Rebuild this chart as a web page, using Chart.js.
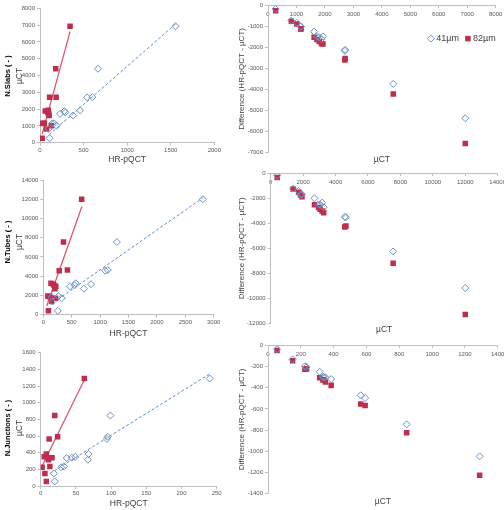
<!DOCTYPE html>
<html><head><meta charset="utf-8">
<script src="https://cdn.jsdelivr.net/npm/chart.js@4.4.1/dist/chart.umd.min.js"></script>
<style>
html,body{margin:0;padding:0;background:#fff;overflow:hidden;width:504px;height:510px;position:relative;}
canvas{position:absolute;}
</style></head><body>
<canvas id="l1"></canvas><canvas id="r1"></canvas>
<canvas id="l2"></canvas><canvas id="r2"></canvas>
<canvas id="l3"></canvas><canvas id="r3"></canvas>
<script>
// ---------------- DATA ----------------
// N.Slabs : µCT value and HR-pQCT values at 41µm / 82µm per sample
const slabsUct  = [270, 820, 1010, 1150, 1160, 1620, 1720, 1800, 1880, 1930, 2700, 2710, 4400, 6930];
const slabsHr41 = [110, 100, 190, 140, 160, 380, 230, 290, 280, 460, 540, 600, 665, 1555];
const slabsHr82 = [25, 75, 130, 30, 50, 105, 100, 90, 60, 95, 110, 185, 180, 345];
const slabsFit41X = [105, 1555], slabsFit41Y = [480, 7060];
const slabsFit82X = [25, 345],   slabsFit82Y = [520, 6610];

// N.Tubes
const tubesUct  = [400, 1380, 1720, 1840, 1930, 2700, 2950, 3050, 3170, 3270, 4570, 4640, 7550, 12000];
const tubesHr41 = [255, 160, 325, 150, 265, 715, 470, 550, 840, 570, 1090, 1135, 1295, 2810];
const tubesHr82 = [90, 145, 215, 120, 80, 205, 220, 190, 175, 135, 280, 425, 355, 675];
const tubesFit41X = [260, 2810], tubesFit41Y = [1600, 12150];
const tubesFit82X = [60, 680],   tubesFit82Y = [900, 11250];

// N.Junctions
const juncUct  = [55, 150, 225, 235, 315, 335, 340, 350, 385, 565, 592, 845, 1290];
const juncHr41 = [20, 19, 29, 33, 67, 37, 44, 49, 68, 94, 95, 99, 240];
const juncHr82 = [8, 6, 2, 13, 11, 10, 16, 5, 8, 12, 24, 20, 62];
const juncFit41X = [13, 240], juncFit41Y = [150, 1345];
const juncFit82X = [1.5, 62], juncFit82Y = [230, 1275];

const seriesLabels = ['41µm', '82µm'];
const paramNames = ['N.Slabs ( - )', 'N.Tubes ( - )', 'N.Junctions ( - )'];
const xTitleLeft = 'HR-pQCT', yTitleLeft = 'µCT';
const xTitleRight = 'µCT', yTitleRight = 'Difference (HR-pQCT - µCT)';

// axis ranges / steps
const leftX  = [[0, 2000, 500], [0, 3000, 500], [0, 250, 50]];
const leftY  = [[0, 8000, 1000], [0, 14000, 2000], [0, 1600, 200]];
const rightX = [[0, 8000, 1000], [0, 14000, 2000], [0, 1400, 200]];
const rightY = [[-7000, 0, 1000], [-12000, 0, 2000], [-1400, 0, 200]];

// ---------------- STYLE ----------------
const FONT = "'Liberation Sans', Arial, sans-serif";
const BLUE_PT = '#6a90c4', RED_PT = '#be2e4c';
const BLUE_LINE = '#5d8ed0', RED_LINE = '#e24b63';
const AXIS = '#bfbfbf', TICK_TXT = '#595959', TITLE_TXT = '#404040';
const tickFont = {family: FONT, size: 6};
const fmt = v => String(v);

function pts(xs, ys){ return xs.map((x, i) => ({x: x, y: ys[i]})); }
function diff(hr, uct){ return hr.map((h, i) => h - uct[i]); }

function drawMarker(ctx, style, x, y, r, fill, stroke, bw){
  ctx.beginPath();
  if (style === 'rectRot') {
    ctx.moveTo(x - r, y); ctx.lineTo(x, y - r); ctx.lineTo(x + r, y); ctx.lineTo(x, y + r);
  } else {
    const s = r * Math.SQRT1_2;
    ctx.rect(x - s, y - s, 2 * s, 2 * s);
  }
  ctx.closePath();
  ctx.fillStyle = fill; ctx.fill();
  if (bw > 0) { ctx.lineWidth = bw; ctx.strokeStyle = stroke; ctx.stroke(); }
}

const sideTitles = {
  id: 'sideTitles',
  afterDraw(chart, args, o){
    if (!o || !o.lines) return;
    const ctx = chart.ctx;
    o.lines.forEach(l => {
      ctx.save();
      ctx.translate(l.x, o.cy);
      ctx.rotate(-Math.PI / 2);
      ctx.font = (l.bold ? 'bold ' : '') + l.size + 'px ' + FONT;
      ctx.fillStyle = l.color;
      ctx.textAlign = 'center'; ctx.textBaseline = 'middle';
      ctx.fillText(l.text, 0, 0);
      ctx.restore();
    });
  }
};

const inlineLegend = {
  id: 'inlineLegend',
  afterDraw(chart, args, o){
    if (!o || !o.display) return;
    const {ctx, chartArea} = chart;
    ctx.save();
    ctx.font = o.size + 'px ' + FONT;
    const items = chart.data.datasets.filter(d => d.label);
    const widths = items.map(d => o.textGap + ctx.measureText(d.label).width);
    const total = widths.reduce((a, b) => a + b, 0) + o.gap * (items.length - 1);
    let x = chartArea.right - total + o.dx;
    const y = chartArea.top + o.dy;
    items.forEach((d, i) => {
      drawMarker(ctx, d.pointStyle, x + d.pointRadius, y, d.pointRadius, d.backgroundColor, d.borderColor, d.borderWidth);
      ctx.fillStyle = TITLE_TXT; ctx.textAlign = 'left'; ctx.textBaseline = 'middle';
      ctx.fillText(d.label, x + o.textGap, y);
      x += widths[i] + o.gap;
    });
    ctx.restore();
  }
};

function pointSets(x41, y41, x82, y82){
  return [
    {label: seriesLabels[0], data: pts(x41, y41), pointStyle: 'rectRot', pointRadius: 3.5, pointHoverRadius: 3.5,
     borderColor: BLUE_PT, backgroundColor: 'rgba(255,255,255,0)', borderWidth: 1},
    {label: seriesLabels[1], data: pts(x82, y82), pointStyle: 'rect', pointRadius: 3.9, pointHoverRadius: 3.9,
     borderColor: RED_PT, backgroundColor: RED_PT, borderWidth: 0}
  ];
}

function setCanvas(id, box){
  const cv = document.getElementById(id);
  cv.width = box.w; cv.height = box.h;
  cv.style.left = box.x + 'px'; cv.style.top = box.y + 'px';
  cv.style.width = box.w + 'px'; cv.style.height = box.h + 'px';
  return cv;
}

function leftChart(id, box, area, k, uct, h41, h82, f41x, f41y, f82x, f82y, xTitleY, titleCy){
  const cv = setCanvas(id, box);
  const datasets = pointSets(h41, uct, h82, uct).concat([
    {data: pts(f41x, f41y), showLine: true, pointRadius: 0, borderColor: BLUE_LINE, borderWidth: 1, borderDash: [3, 2]},
    {data: pts(f82x, f82y), showLine: true, pointRadius: 0, borderColor: RED_LINE, borderWidth: 1.2}
  ]);
  const xScaleH = box.y + box.h - area.b;
  const titleLH = 8.5 * 1.2;
  new Chart(cv, {
    type: 'scatter',
    data: {datasets: datasets},
    options: {
      responsive: false, animation: false, devicePixelRatio: 1,
      events: [],
      layout: {padding: {left: 0, top: area.t - box.y, right: box.x + box.w - area.r, bottom: 0}},
      plugins: {
        legend: {display: false}, tooltip: {enabled: false},
        sideTitles: {cy: titleCy - box.y, lines: [
          {text: paramNames[k], x: 8, bold: true, size: 7.5, color: '#000'},
          {text: yTitleLeft, x: 20, bold: false, size: 8.5, color: TITLE_TXT}
        ]}
      },
      scales: {
        x: {type: 'linear', position: 'bottom', min: leftX[k][0], max: leftX[k][1],
            ticks: {stepSize: leftX[k][2], font: tickFont, color: TICK_TXT, padding: 1, callback: fmt, maxRotation: 0},
            grid: {drawOnChartArea: false, tickLength: 3, color: AXIS},
            border: {color: AXIS},
            title: {display: true, text: xTitleLeft, color: TITLE_TXT, font: {family: FONT, size: 8.5},
                    padding: {top: 0, bottom: (box.y + box.h - xTitleY) - titleLH / 2}},
            afterFit(s){ s.height = xScaleH; }},
        y: {type: 'linear', position: 'left', min: leftY[k][0], max: leftY[k][1],
            ticks: {stepSize: leftY[k][2], font: tickFont, color: TICK_TXT, padding: 2, callback: fmt},
            grid: {drawOnChartArea: false, tickLength: 3, color: AXIS},
            border: {color: AXIS},
            afterFit(s){ s.width = area.l - box.x; }}
      }
    },
    plugins: [sideTitles]
  });
}

function rightChart(id, box, area, k, uct, h41, h82, xTitleY, legend){
  const cv = setCanvas(id, box);
  const datasets = pointSets(uct, diff(h41, uct), uct, diff(h82, uct));
  const tSize = 8.5, tLH = tSize * 1.2;
  const bottomEdge = box.y + box.h;
  const pb = bottomEdge - xTitleY - tLH / 2;
  const pt = bottomEdge - area.b - tLH - pb;
  const yTitleSize = 8;
  new Chart(cv, {
    type: 'scatter',
    data: {datasets: datasets},
    options: {
      responsive: false, animation: false, devicePixelRatio: 1,
      events: [],
      layout: {padding: {left: 0, top: area.t - box.y, right: box.x + box.w - area.r, bottom: 0}},
      plugins: {
        legend: {display: false}, tooltip: {enabled: false},
        title: {display: true, text: xTitleRight, position: 'bottom', fullSize: false, color: TITLE_TXT,
                font: {family: FONT, size: tSize, weight: 'normal'}, padding: {top: pt, bottom: pb}},
        inlineLegend: {display: legend, size: 9, textGap: 9, gap: 5, dx: 0, dy: 33}
      },
      scales: {
        x: {type: 'linear', position: {y: 0}, min: rightX[k][0], max: rightX[k][1],
            ticks: {stepSize: rightX[k][2], font: tickFont, color: TICK_TXT, padding: 3, callback: fmt, maxRotation: 0},
            grid: {drawOnChartArea: false, tickLength: 2, color: AXIS},
            border: {color: AXIS},
            afterFit(s){ s.height = 0; }},
        y: {type: 'linear', position: 'left', min: rightY[k][0], max: rightY[k][1],
            ticks: {stepSize: rightY[k][2], font: tickFont, color: TICK_TXT, padding: 2, callback: fmt},
            grid: {drawOnChartArea: false, tickLength: 3, color: AXIS},
            border: {color: AXIS},
            title: {display: true, text: yTitleRight, color: TITLE_TXT, font: {family: FONT, size: yTitleSize},
                    padding: {top: 7 - yTitleSize * 1.2 / 2, bottom: 0}},
            afterFit(s){ s.width = area.l - box.x; }}
      }
    },
    plugins: [inlineLegend]
  });
}

leftChart('l1', {x: 0, y: 0, w: 235, h: 168}, {l: 40, t: 8.3, r: 214.3, b: 142.7}, 0,
  slabsUct, slabsHr41, slabsHr82, slabsFit41X, slabsFit41Y, slabsFit82X, slabsFit82Y, 160, 76);
leftChart('l2', {x: 0, y: 168, w: 235, h: 172}, {l: 43.3, t: 180, r: 213.7, b: 314.7}, 1,
  tubesUct, tubesHr41, tubesHr82, tubesFit41X, tubesFit41Y, tubesFit82X, tubesFit82Y, 333.3, 242);
leftChart('l3', {x: 0, y: 340, w: 235, h: 170}, {l: 40.7, t: 352.7, r: 216.7, b: 486}, 2,
  juncUct, juncHr41, juncHr82, juncFit41X, juncFit41Y, juncFit82X, juncFit82Y, 504, 428);

rightChart('r1', {x: 235, y: 0, w: 285, h: 168}, {l: 268, t: 2.7, r: 495.7, b: 152.3}, 0,
  slabsUct, slabsHr41, slabsHr82, 160, true);
rightChart('r2', {x: 235, y: 168, w: 285, h: 172}, {l: 270.7, t: 172.3, r: 497.7, b: 323}, 1,
  tubesUct, tubesHr41, tubesHr82, 330, false);
rightChart('r3', {x: 235, y: 340, w: 285, h: 170}, {l: 268, t: 343.3, r: 497.7, b: 493.3}, 2,
  juncUct, juncHr41, juncHr82, 501.7, false);
</script>
</body></html>
